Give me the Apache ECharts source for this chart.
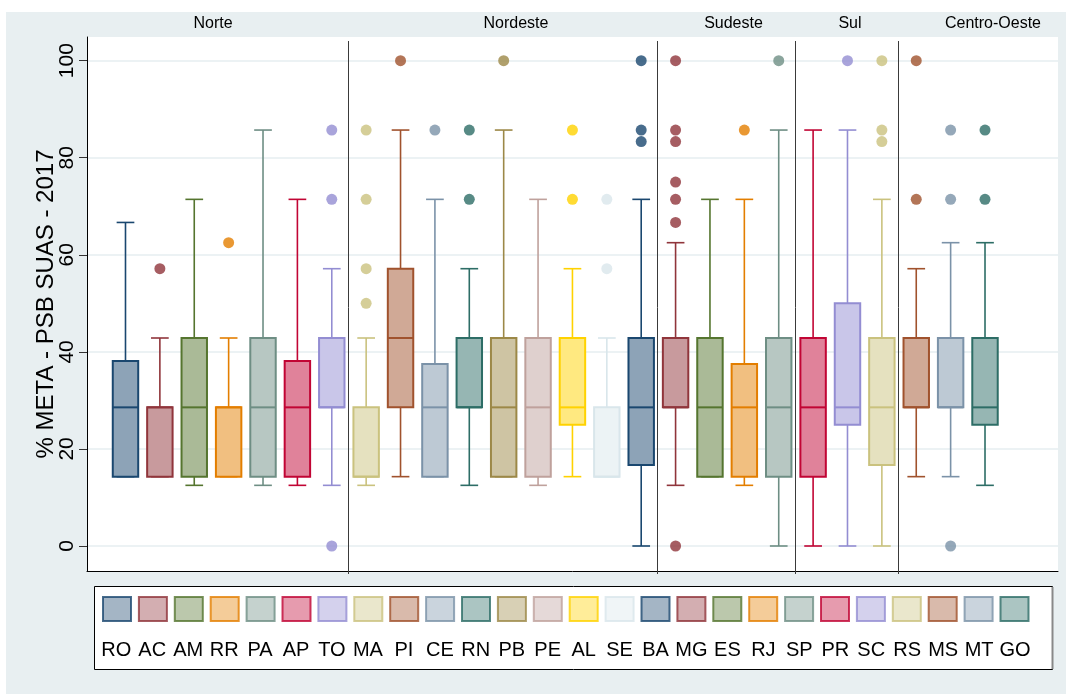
<!DOCTYPE html>
<html>
<head>
<meta charset="utf-8">
<script src="https://cdn.jsdelivr.net/npm/echarts@6/dist/echarts.min.js"></script>
<style>
html,body{margin:0;padding:0;background:#fff;}
#chart{width:1066px;height:694px;}
</style>
</head>
<body>
<div id="chart"></div>
<script>
// ---- data ----
const states = ['RO','AC','AM','RR','PA','AP','TO','MA','PI','CE','RN','PB','PE','AL','SE','BA','MG','ES','RJ','SP','PR','SC','RS','MS','MT','GO'];
const regionNames = ['Norte','Nordeste','Sudeste','Sul','Centro-Oeste'];
const regionFirstState = ['RO','MA','MG','PR','MS'];
const lowWhisker  = [14.29,14.29,12.5,14.29,12.5,12.5,12.5,12.5,14.29,14.29,12.5,14.29,12.5,14.29,14.29,0,12.5,14.29,12.5,0,0,0,0,14.29,14.29,12.5];
const q1          = [14.29,14.29,14.29,14.29,14.29,14.29,28.57,14.29,28.57,14.29,28.57,14.29,14.29,25,14.29,16.67,28.57,14.29,14.29,14.29,14.29,25,16.67,28.57,28.57,25];
const median      = [28.57,28.57,28.57,28.57,28.57,28.57,28.57,14.29,42.86,28.57,28.57,28.57,28.57,28.57,14.29,28.57,28.57,28.57,28.57,28.57,28.57,28.57,28.57,28.57,28.57,28.57];
const q3          = [38.1,28.57,42.86,28.57,42.86,38.1,42.86,28.57,57.14,37.5,42.86,42.86,42.86,42.86,28.57,42.86,42.86,42.86,37.5,42.86,42.86,50,42.86,42.86,42.86,42.86];
const highWhisker = [66.67,42.86,71.43,42.86,85.71,71.43,57.14,42.86,85.71,71.43,57.14,85.71,71.43,57.14,42.86,71.43,62.5,71.43,71.43,85.71,85.71,85.71,71.43,57.14,62.5,62.5];
const outliers = [
  [], [57.14], [], [62.5], [], [], [85.71,71.43,0],
  [85.71,71.43,57.14,50], [100], [85.71], [85.71,71.43], [100], [], [85.71,71.43], [71.43,57.14], [100,85.71,83.33],
  [100,85.71,83.33,75,71.43,66.67,0], [], [85.71], [100],
  [], [100], [100,85.71,83.33],
  [100,71.43], [85.71,71.43,0], [85.71,71.43]
];
const yTicks = [0,20,40,60,80,100];
const yTitle = '% META - PSB SUAS - 2017';

// ---- style ----
const palette = ['#1a476f','#90353b','#55752f','#e37e00','#6e8e84','#c10534','#938dd2','#cac27e','#a0522d','#7b92a8','#2d6d66','#9c8847','#bfa19c','#ffd200','#d9e6eb'];
function mix(hex){
  const n=parseInt(hex.slice(1),16);
  const r=(n>>16)&255,g=(n>>8)&255,b=n&255;
  const m=v=>Math.round(v*0.5+255*0.5);
  return 'rgb('+m(r)+','+m(g)+','+m(b)+')';
}
const strokeC = states.map((s,i)=>palette[i%palette.length]);
const fillC = strokeC.map(mix);
const bg = '#e8eff1';
const font = 'Liberation Sans, Arial, sans-serif';

const boxData = states.map((s,i)=>[i, lowWhisker[i], q1[i], median[i], q3[i], highWhisker[i]]);
const sepData = regionFirstState.slice(1).map(s=>[states.indexOf(s), 0]);

const series = [{
  type:'custom', name:'boxes', xAxisIndex:1, yAxisIndex:1, z:2,
  data: boxData,
  encode:{x:0, y:[1,2,3,4,5]},
  renderItem(params, api){
    const i = api.value(0);
    const pl = api.coord([i, api.value(1)]);
    const p1 = api.coord([i, api.value(2)]);
    const pm = api.coord([i, api.value(3)]);
    const p3 = api.coord([i, api.value(4)]);
    const ph = api.coord([i, api.value(5)]);
    const band = api.size([1,0])[0];
    const bw = band*0.74, cw = band*0.515;
    const x = pm[0];
    const c = strokeC[i], f = fillC[i];
    const ls = {stroke:c, lineWidth:1.6};
    return {type:'group', children:[
      {type:'line', shape:{x1:x,y1:p3[1],x2:x,y2:ph[1]}, style:ls},
      {type:'line', shape:{x1:x,y1:p1[1],x2:x,y2:pl[1]}, style:ls},
      {type:'line', shape:{x1:x-cw/2,y1:ph[1],x2:x+cw/2,y2:ph[1]}, style:ls},
      {type:'line', shape:{x1:x-cw/2,y1:pl[1],x2:x+cw/2,y2:pl[1]}, style:ls},
      {type:'rect', shape:{x:x-bw/2,y:p3[1],width:bw,height:p1[1]-p3[1]}, style:{fill:f, stroke:c, lineWidth:2}},
      {type:'line', shape:{x1:x-bw/2,y1:pm[1],x2:x+bw/2,y2:pm[1]}, style:{stroke:c, lineWidth:2}}
    ]};
  }
},{
  type:'custom', name:'separators', xAxisIndex:1, yAxisIndex:1, z:1, silent:true,
  data: sepData,
  encode:{x:0, y:1},
  renderItem(params, api){
    const band = api.size([1,0])[0];
    const p = api.coord([api.value(0), 0]);
    const x = Math.round(p[0]-band/2)-0.5;
    const cs = params.coordSys;
    return {type:'line', shape:{x1:x,y1:cs.y,x2:x,y2:cs.y+cs.height}, style:{stroke:'#3a3a3a', lineWidth:1}};
  }
}];
states.forEach((s,i)=>{
  series.push({
    type:'scatter', name:s, xAxisIndex:1, yAxisIndex:1, z:3,
    symbol:'circle', symbolSize:11,
    itemStyle:{color:strokeC[i]},
    data: outliers[i].map(v=>[s, v])
  });
});

const regionLabelX = [213, 516, 733.5, 850, 993];

const option = {
  backgroundColor:'#fff',
  animation:false,
  graphic:[
    {type:'rect', z:-100, silent:true, shape:{x:6,y:12,width:1060,height:682}, style:{fill:bg}},
    {type:'rect', z:-50, silent:true, shape:{x:94.5,y:586.5,width:958,height:83}, style:{fill:'#fff', stroke:'#000', lineWidth:1}},
    {type:'line', z:-49, silent:true, shape:{x1:1052.5,y1:587,x2:1052.5,y2:669}, style:{stroke:'#888', lineWidth:2}},
    ...regionNames.map((r,k)=>({type:'text', z:10, silent:true, x:regionLabelX[k], y:24,
      style:{text:r, font:'16px '+font, fill:'#000', textAlign:'center', textVerticalAlign:'middle'}}))
  ],
  grid:[
    {left:87, right:8, top:37, bottom:123, show:true, backgroundColor:'#fff', borderWidth:0},
    {left:108.3, right:63.8, top:41, bottom:120, show:false},
    {left:98.3, width:934.7, top:620, bottom:64, show:false}
  ],
  xAxis:[
    {gridIndex:0, type:'value', min:0, max:1, axisLine:{show:true, onZero:false, lineStyle:{color:'#000', width:1}}, axisTick:{show:false}, axisLabel:{show:false}, splitLine:{show:false}},
    {gridIndex:1, type:'category', data:states, boundaryGap:true,
      axisLine:{show:false}, axisTick:{show:false}, axisLabel:{show:false}, splitLine:{show:false}},
    {gridIndex:2, type:'category', data:states, boundaryGap:true,
      axisLine:{show:false}, axisTick:{show:false}, splitLine:{show:false},
      axisLabel:{show:true, interval:0, margin:10, fontFamily:font, fontSize:20, color:'#000'}}
  ],
  yAxis:[
    {gridIndex:0, type:'value', min:-5.15, max:104.88,
      name:yTitle, nameLocation:'middle', nameRotate:90, nameGap:29, nameMoveOverlap:false,
      nameTextStyle:{fontFamily:font, fontSize:24, color:'#000'},
      axisLine:{show:true, onZero:false, lineStyle:{color:'#000', width:1}},
      axisTick:{show:true, length:8, customValues:yTicks, lineStyle:{color:'#333'}},
      axisLabel:{show:true, rotate:90, margin:9, customValues:yTicks, fontFamily:font, fontSize:21, color:'#000'},
      splitLine:{show:true, lineStyle:{color:'#e6eef0', width:1.5}}},
    {gridIndex:1, type:'value', min:-5.77, max:104.06, show:false, splitLine:{show:false}},
    {gridIndex:2, type:'value', min:0, max:1, show:false, splitLine:{show:false}}
  ],
  legend:[
    {left:102, top:596, padding:0, orient:'horizontal', itemWidth:28, itemHeight:24, itemGap:5.9,
      selectedMode:false, formatter:()=>'', textStyle:{fontSize:1},
      data: states.map((s,i)=>({name:s, icon:'rect', itemStyle:{color:fillC[i], borderColor:strokeC[i], borderWidth:2}}))}
  ],
  series: series
};
const chart = echarts.init(document.getElementById('chart'), null, {renderer:'canvas'});
chart.setOption(option);
</script>
</body>
</html>
